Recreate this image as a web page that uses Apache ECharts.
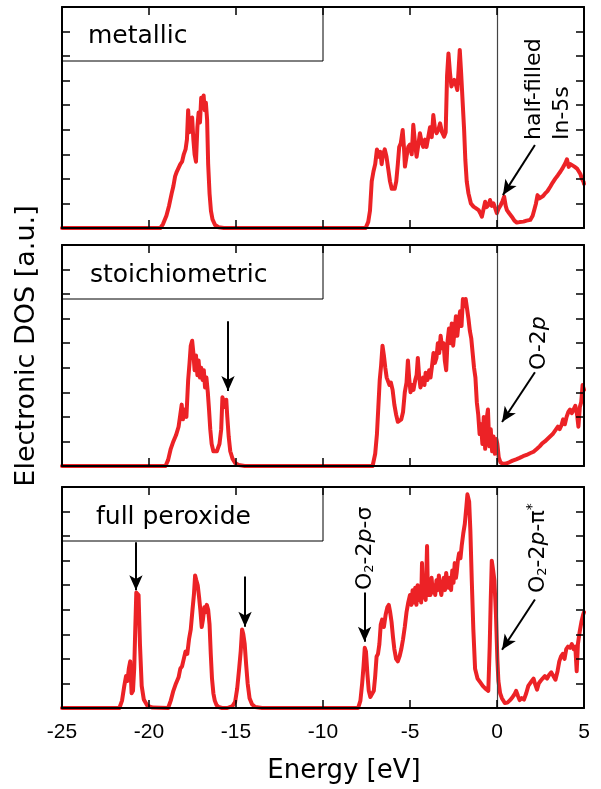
<!DOCTYPE html>
<html><head><meta charset="utf-8">
<script src="https://cdn.jsdelivr.net/npm/echarts@6/dist/echarts.min.js"></script>
<style>html,body{margin:0;padding:0;background:#fff}#c{width:601px;height:789px}</style>
</head><body><div id="c"></div>
<script>
const xTicks = [-25,-20,-15,-10,-5,0,5];
const panelNames = ['metallic','stoichiometric','full peroxide'];

// [energy (eV), DOS (a.u.)]
const metallic = [[-25,0],[-19.35,0],[-19.2,0.15],[-19.0,0.5],[-18.85,0.9],[-18.7,1.4],[-18.6,1.7],[-18.5,2.1],[-18.4,2.3],[-18.3,2.25],[-18.2,2.6],[-18.1,2.7],[-18.0,3.0],[-17.9,3.2],[-17.82,3.6],[-17.75,4.8],[-17.68,3.9],[-17.6,4.3],[-17.52,4.5],[-17.45,3.6],[-17.38,3.0],[-17.3,2.7],[-17.22,4.1],[-17.15,4.7],[-17.07,4.3],[-17.0,5.3],[-16.93,4.9],[-16.86,5.4],[-16.8,4.8],[-16.73,5.1],[-16.66,4.4],[-16.6,2.6],[-16.52,1.4],[-16.44,0.7],[-16.35,0.35],[-16.2,0.12],[-16.0,0.03],[-15.7,0],
[-7.55,0],[-7.4,0.25],[-7.3,0.7],[-7.2,1.9],[-7.1,2.3],[-7.0,2.6],[-6.9,3.2],[-6.8,2.9],[-6.7,3.1],[-6.63,2.6],[-6.55,3.0],[-6.45,3.2],[-6.35,2.9],[-6.25,2.4],[-6.15,1.9],[-6.05,1.6],[-5.98,1.68],[-5.88,1.6],[-5.79,1.9],[-5.7,2.6],[-5.62,3.3],[-5.53,3.45],[-5.42,3.99],[-5.35,3.3],[-5.29,2.5],[-5.2,2.9],[-5.1,3.3],[-5.0,3.4],[-4.9,3.0],[-4.81,4.2],[-4.72,3.5],[-4.62,2.9],[-4.52,3.4],[-4.43,3.86],[-4.33,3.5],[-4.24,3.3],[-4.14,3.6],[-4.05,3.3],[-3.95,3.7],[-3.85,4.1],[-3.75,3.7],[-3.66,4.6],[-3.56,4.0],[-3.47,3.86],[-3.37,4.0],[-3.27,4.26],[-3.16,3.9],[-3.04,3.72],[-2.95,3.9],[-2.87,6.2],[-2.79,7.11],[-2.7,6.3],[-2.62,5.76],[-2.54,5.9],[-2.45,6.03],[-2.35,5.8],[-2.28,5.62],[-2.21,6.4],[-2.14,7.25],[-2.06,6.3],[-1.98,5.21],[-1.89,4.0],[-1.82,2.77],[-1.74,1.9],[-1.64,1.41],[-1.5,1.0],[-1.35,0.87],[-1.2,0.8],[-1.06,0.73],[-0.96,0.6],[-0.87,0.46],[-0.78,0.75],[-0.68,1.07],[-0.6,0.85],[-0.55,0.8],[-0.47,0.95],[-0.4,1.14],[-0.3,0.9],[-0.2,1.0],[-0.1,0.8],[-0.01,0.6],[0.1,0.8],[0.22,0.94],[0.32,1.1],[0.41,1.28],[0.5,0.9],[0.57,0.73],[0.7,0.6],[0.85,0.46],[1.0,0.3],[1.14,0.22],[1.3,0.24],[1.52,0.26],[1.7,0.3],[1.91,0.33],[2.05,0.5],[2.14,0.73],[2.24,1.0],[2.33,1.34],[2.42,1.2],[2.52,1.2],[2.65,1.3],[2.77,1.41],[2.9,1.5],[3.06,1.68],[3.2,1.85],[3.35,2.01],[3.5,2.15],[3.64,2.29],[3.78,2.45],[3.92,2.63],[4.02,2.8],[4.12,2.49],[4.22,2.6],[4.31,2.63],[4.45,2.5],[4.6,2.42],[4.7,2.5],[4.79,2.2],[4.88,2.0],[4.98,1.87],[5,1.8]];

const stoichiometric = [[-25,0],[-19.05,0],[-18.9,0.25],[-18.75,0.7],[-18.6,1.0],[-18.45,1.25],[-18.3,1.6],[-18.2,2.1],[-18.12,2.5],[-18.05,1.9],[-17.95,2.3],[-17.85,2.0],[-17.75,3.5],[-17.67,4.2],[-17.6,4.9],[-17.52,5.1],[-17.45,4.6],[-17.38,3.9],[-17.3,4.5],[-17.22,3.7],[-17.15,4.3],[-17.07,3.6],[-17.0,4.0],[-16.92,3.5],[-16.85,3.9],[-16.78,3.2],[-16.7,3.6],[-16.62,3.0],[-16.55,2.3],[-16.48,1.5],[-16.4,0.9],[-16.3,0.6],[-16.2,0.55],[-16.1,0.6],[-15.95,0.9],[-15.85,1.5],[-15.78,2.8],[-15.7,2.75],[-15.62,2.4],[-15.56,2.7],[-15.5,2.0],[-15.42,1.2],[-15.33,0.6],[-15.2,0.3],[-15.05,0.12],[-14.85,0.04],[-14.5,0],
[-7.15,0],[-7.0,0.5],[-6.9,1.3],[-6.82,2.4],[-6.74,3.5],[-6.66,4.1],[-6.58,4.9],[-6.5,4.5],[-6.42,4.0],[-6.34,3.6],[-6.26,3.6],[-6.18,3.3],[-6.1,3.4],[-6.0,3.1],[-5.9,2.5],[-5.8,2.1],[-5.7,1.8],[-5.6,1.75],[-5.5,1.9],[-5.4,2.2],[-5.3,3.0],[-5.2,3.4],[-5.12,4.3],[-5.05,3.6],[-4.97,3.0],[-4.88,3.3],[-4.8,3.1],[-4.7,3.5],[-4.62,3.7],[-4.55,4.4],[-4.47,3.6],[-4.4,3.2],[-4.32,3.4],[-4.25,3.6],[-4.17,3.3],[-4.1,3.8],[-4.0,3.5],[-3.9,3.9],[-3.82,3.6],[-3.73,4.1],[-3.65,4.6],[-3.57,4.2],[-3.48,4.4],[-3.4,5.0],[-3.32,4.6],[-3.24,5.3],[-3.15,4.8],[-3.07,5.0],[-3.0,4.3],[-2.92,3.9],[-2.84,5.1],[-2.76,5.6],[-2.68,5.0],[-2.6,5.8],[-2.52,4.9],[-2.44,5.5],[-2.36,6.1],[-2.28,5.3],[-2.2,5.9],[-2.12,6.3],[-2.04,5.7],[-1.96,6.8],[-1.88,6.5],[-1.8,6.8],[-1.72,6.4],[-1.64,6.0],[-1.56,5.5],[-1.48,5.2],[-1.4,4.6],[-1.32,4.0],[-1.24,3.6],[-1.16,2.6],[-1.08,2.1],[-1.0,1.3],[-0.92,1.7],[-0.84,0.9],[-0.76,2.0],[-0.68,0.7],[-0.6,1.9],[-0.52,2.3],[-0.44,0.8],[-0.36,1.5],[-0.28,0.6],[-0.2,1.2],[-0.12,0.5],[-0.04,1.1],[0.02,0.9],[0.1,0.35],[0.2,0.15],[0.35,0.08],[0.5,0.1],[0.7,0.15],[0.9,0.22],[1.1,0.27],[1.3,0.33],[1.5,0.4],[1.7,0.45],[1.9,0.52],[2.1,0.58],[2.3,0.7],[2.45,0.8],[2.6,0.92],[2.75,1.0],[2.9,1.1],[3.05,1.2],[3.2,1.3],[3.35,1.45],[3.5,1.6],[3.6,1.5],[3.7,1.65],[3.8,1.9],[3.9,1.7],[4.0,2.0],[4.1,2.2],[4.2,2.3],[4.3,2.15],[4.4,2.3],[4.5,2.45],[4.6,2.1],[4.68,1.6],[4.76,2.4],[4.84,2.6],[4.92,3.3],[5,3.1]];

const fullPeroxide = [[-25,0],[-21.7,0],[-21.55,0.3],[-21.42,0.9],[-21.32,1.3],[-21.24,1.1],[-21.16,1.6],[-21.08,1.9],[-21.0,0.6],[-20.92,0.7],[-20.85,1.6],[-20.79,3.2],[-20.73,4.7],[-20.67,4.75],[-20.6,4.6],[-20.52,2.6],[-20.42,0.9],[-20.3,0.35],[-20.1,0.1],[-19.8,0.02],[-18.9,0],
[-18.75,0.3],[-18.6,0.7],[-18.45,1.0],[-18.3,1.25],[-18.2,1.6],[-18.1,1.7],[-18.0,2.0],[-17.9,2.3],[-17.8,2.2],[-17.7,2.8],[-17.6,3.2],[-17.5,4.0],[-17.42,4.6],[-17.35,5.4],[-17.28,5.2],[-17.2,5.0],[-17.12,4.5],[-17.05,4.0],[-16.97,3.3],[-16.9,3.6],[-16.82,4.1],[-16.75,3.9],[-16.68,4.2],[-16.6,4.0],[-16.52,3.4],[-16.45,2.2],[-16.38,1.2],[-16.3,0.6],[-16.22,0.3],[-16.12,0.12],[-16.0,0.04],[-15.8,0],
[-15.5,0],[-15.2,0.08],[-15.05,0.25],[-14.93,0.8],[-14.82,1.6],[-14.73,2.3],[-14.65,3.2],[-14.58,3.0],[-14.5,2.6],[-14.42,1.8],[-14.33,1.0],[-14.22,0.4],[-14.08,0.15],[-13.9,0.04],[-13.5,0],
[-7.98,0],[-7.85,0.3],[-7.75,1.0],[-7.67,1.7],[-7.6,2.45],[-7.53,2.3],[-7.45,1.4],[-7.37,0.7],[-7.28,0.45],[-7.18,0.4],[-7.08,0.7],[-7.0,1.3],[-6.92,2.1],[-6.84,2.2],[-6.76,2.6],[-6.68,3.4],[-6.6,3.6],[-6.5,3.3],[-6.4,3.8],[-6.3,4.1],[-6.22,4.2],[-6.14,3.9],[-6.06,3.5],[-5.98,2.9],[-5.9,2.4],[-5.8,2.0],[-5.7,1.9],[-5.6,2.1],[-5.5,2.4],[-5.4,2.8],[-5.3,3.3],[-5.2,3.9],[-5.1,4.3],[-5.0,4.6],[-4.92,4.2],[-4.85,4.8],[-4.78,4.3],[-4.7,4.9],[-4.63,4.2],[-4.56,5.0],[-4.49,4.4],[-4.42,4.9],[-4.36,4.3],[-4.31,5.9],[-4.25,4.5],[-4.17,4.8],[-4.1,4.4],[-4.02,6.6],[-3.97,4.6],[-3.9,5.1],[-3.83,4.6],[-3.76,5.3],[-3.69,4.7],[-3.62,5.0],[-3.55,4.6],[-3.48,5.2],[-3.41,4.8],[-3.34,5.4],[-3.27,4.9],[-3.2,4.6],[-3.13,5.0],[-3.06,5.3],[-2.99,4.8],[-2.92,5.5],[-2.85,5.1],[-2.78,4.9],[-2.71,5.3],[-2.64,4.8],[-2.57,5.6],[-2.5,5.1],[-2.43,5.9],[-2.36,5.3],[-2.32,5.5],[-2.25,6.0],[-2.18,6.3],[-2.1,6.1],[-2.03,6.6],[-1.94,7.1],[-1.85,7.5],[-1.76,8.2],[-1.7,8.7],[-1.66,8.75],[-1.6,8.4],[-1.53,7.2],[-1.45,5.2],[-1.36,3.2],[-1.26,1.6],[-1.12,1.2],[-0.97,1.05],[-0.82,0.9],[-0.68,0.8],[-0.58,0.75],[-0.5,0.7],[-0.42,2.5],[-0.36,4.4],[-0.3,6.0],[-0.22,5.6],[-0.15,5.2],[-0.06,3.8],[0.02,2.0],[0.08,1.1],[0.18,0.6],[0.28,0.4],[0.45,0.2],[0.6,0.22],[0.75,0.32],[0.9,0.45],[1.0,0.55],[1.1,0.7],[1.2,0.5],[1.3,0.32],[1.42,0.4],[1.55,0.34],[1.68,0.6],[1.8,0.9],[1.9,1.0],[2.0,1.1],[2.1,1.2],[2.2,0.95],[2.3,0.75],[2.4,1.0],[2.5,1.1],[2.62,1.2],[2.75,1.3],[2.88,1.2],[3.0,1.35],[3.12,1.45],[3.24,1.3],[3.36,1.15],[3.48,1.5],[3.58,1.9],[3.68,2.1],[3.78,2.2],[3.88,2.0],[3.98,2.4],[4.08,2.5],[4.2,2.45],[4.3,2.6],[4.4,2.4],[4.5,2.5],[4.58,1.5],[4.65,2.6],[4.75,3.1],[4.85,3.5],[4.95,3.8],[5,3.9]];

// arrows (panel index, start energy/DOS, end energy/DOS)
const arrowPanel = [0, 1, 1, 2, 2, 2, 2];
const arrowE1 = [2.18, -15.46, 2.18, -20.75, -14.48, -7.61, 2.18];
const arrowD1 = [3.38, 5.89, 3.82, 6.75, 5.36, 4.70, 4.42];
const arrowE2 = [0.34, -15.46, 0.29, -20.75, -14.48, -7.61, 0.29];
const arrowD2 = [1.34, 3.05, 1.79, 4.80, 3.31, 2.70, 2.37];

const panelData = [metallic, stoichiometric, fullPeroxide];

const gridTops = [7, 245, 487];
const gridH = 221;
const RED = '#ec2226';
const FONT = 'DejaVu Sans';

const grid = gridTops.map(t => ({left: 62, top: t, width: 522, height: gridH}));
const xAxis = [], yAxis = [], series = [];
for (let i = 0; i < 3; i++) {
  for (const pos of ['bottom', 'top']) {
    xAxis.push({
      gridIndex: i, type: 'value', min: -25, max: 5, interval: 5, position: pos, z: 10,
      axisLine: {show: true, onZero: false, lineStyle: {color: '#000', width: 2}},
      axisTick: {show: true, inside: true, length: 8, lineStyle: {color: '#000', width: 1.5}},
      axisLabel: {show: i === 2 && pos === 'bottom', color: '#000', fontFamily: 'Liberation Sans', fontSize: 21, margin: 14,
        formatter: v => xTicks.includes(v) ? String(v) : ''},
      splitLine: {show: false}
    });
  }
  for (const pos of ['left', 'right']) {
    yAxis.push({
      gridIndex: i, type: 'value', min: 0, max: 9, interval: 1, position: pos, z: 10,
      axisLine: {show: true, onZero: false, lineStyle: {color: '#000', width: 2}},
      axisTick: {show: true, inside: true, length: 8, lineStyle: {color: '#000', width: 1.5}},
      axisLabel: {show: false}, splitLine: {show: false}
    });
  }
  const arrows = [];
  arrowPanel.forEach((p, k) => {
    if (p !== i) return;
    arrows.push([
      {coord: [arrowE1[k], arrowD1[k]], symbol: 'none'},
      {coord: [arrowE2[k], arrowD2[k]], symbol: 'arrow', symbolSize: [10, 15]}
    ]);
  });
  series.push({
    type: 'line', xAxisIndex: i * 2, yAxisIndex: i * 2, showSymbol: false, symbol: 'none',
    lineStyle: {color: RED, width: 4, join: 'round', cap: 'round'}, z: 3,
    data: panelData[i],
    markLine: {
      silent: true, symbol: 'none', animation: false, label: {show: false},
      lineStyle: {color: '#444', width: 1.2, type: 'solid'},
      data: [{xAxis: 0}]
    }
  });
  series.push({
    type: 'line', xAxisIndex: i * 2, yAxisIndex: i * 2, data: [], z: 4,
    markLine: {
      silent: true, animation: false, label: {show: false},
      lineStyle: {color: '#000', width: 2, type: 'solid'},
      itemStyle: {color: '#000'},
      data: arrows
    }
  });
}

const boxBottoms = [61, 299, 541];
const labelX = [88, 90, 96];
const labelY = [36, 275, 517];
const graphic = [];
for (let i = 0; i < 3; i++) {
  graphic.push({type: 'rect', z: 1, shape: {x: 62, y: gridTops[i], width: 261, height: boxBottoms[i] - gridTops[i]},
    style: {fill: '#fff', stroke: '#000', lineWidth: 1}});
  graphic.push({type: 'text', z: 2, x: labelX[i], y: labelY[i],
    style: {text: panelNames[i], font: '25px "DejaVu Sans"', fill: '#000', textVerticalAlign: 'middle', textAlign: 'left'}});
}
const rot = Math.PI / 2;
const annFont = 22;
const richBase = {
  a: {fontFamily: FONT, fontSize: annFont, fill: '#000'},
  i: {fontFamily: FONT, fontSize: annFont, fontStyle: 'italic', fill: '#000'},
  s: {fontFamily: FONT, fontSize: 13, fill: '#000', padding: [10, 0, 0, 0]},
  u: {fontFamily: FONT, fontSize: 14, fill: '#000', padding: [0, 0, 12, 0]}
};
graphic.push({type: 'text', z: 20, x: 534, y: 140, rotation: rot,
  style: {text: 'half-filled', font: annFont + 'px "DejaVu Sans"', fill: '#000', textAlign: 'left', textVerticalAlign: 'middle'}});
graphic.push({type: 'text', z: 20, x: 562, y: 140, rotation: rot,
  style: {text: 'In-5s', font: annFont + 'px "DejaVu Sans"', fill: '#000', textAlign: 'left', textVerticalAlign: 'middle'}});
graphic.push({type: 'text', z: 20, x: 539, y: 370, rotation: rot,
  style: {text: '{a|O-2}{i|p}', rich: richBase, textAlign: 'left', textVerticalAlign: 'middle'}});
graphic.push({type: 'text', z: 20, x: 365, y: 590, rotation: rot,
  style: {text: '{a|O}{s|2}{a|-2}{i|p}{a|-σ}', rich: richBase, textAlign: 'left', textVerticalAlign: 'middle'}});
graphic.push({type: 'text', z: 20, x: 538, y: 593, rotation: rot,
  style: {text: '{a|O}{s|2}{a|-2}{i|p}{a|-π}{u|*}', rich: richBase, textAlign: 'left', textVerticalAlign: 'middle'}});
graphic.push({type: 'text', z: 20, x: 344, y: 771,
  style: {text: 'Energy [eV]', font: '26px "DejaVu Sans"', fill: '#000', textAlign: 'center', textVerticalAlign: 'middle'}});
graphic.push({type: 'text', z: 20, x: 27, y: 346, rotation: rot,
  style: {text: 'Electronic DOS [a.u.]', font: '27px "DejaVu Sans"', fill: '#000', textAlign: 'center', textVerticalAlign: 'middle'}});

const chart = echarts.init(document.getElementById('c'), null, {renderer: 'canvas'});
chart.setOption({animation: false, backgroundColor: '#fff', grid, xAxis, yAxis, series, graphic});
</script></body></html>
